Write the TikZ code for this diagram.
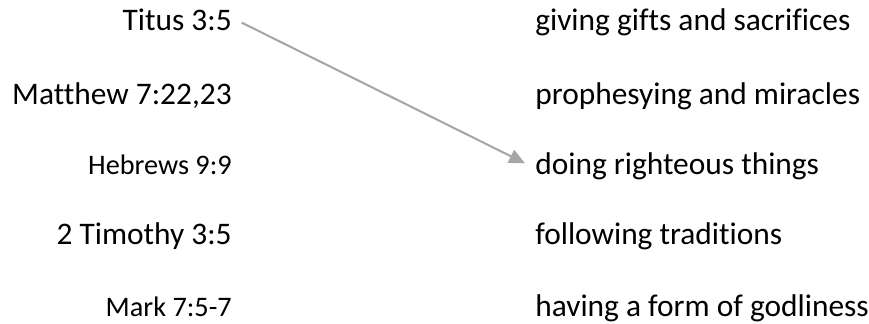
\documentclass[tikz,border=0pt]{standalone}
\usepackage{fontspec}
\setmainfont{Carlito}[Ligatures={NoCommon,NoContextual}]
\usetikzlibrary{calc,arrows.meta}
\definecolor{arrgray}{HTML}{A6A6A6}
\begin{document}
\begin{tikzpicture}[x=0.637pt,y=-0.637pt,
  refbig/.style={font=\fontsize{20}{24}\selectfont, inner sep=0pt, anchor=base east},
  refsmall/.style={font=\fontsize{18}{22}\selectfont, inner sep=0pt, anchor=base east},
  item/.style={font=\fontsize{20}{24}\selectfont, inner sep=0pt, anchor=base west},
  link/.style={draw=arrgray, line width=1.3pt, -{Triangle[length=10pt,width=9pt]}}]
\useasboundingbox (0,0) rectangle (869,324);
% left column
\node[refbig]   (l1) at (232,30.5)  {Titus 3:5};
\node[refbig]   (l2) at (232,104.5) {Matthew 7:22,23};
\node[refsmall] (l3) at (232,175)   {Hebrews 9:9};
\node[refbig]   (l4) at (232,245)   {2 Timothy 3:5};
\node[refsmall] (l5) at (232,317)   {Mark 7:5-7};
% right column
\node[item] (r1) at (535,31)  {giving gifts and sacrifices};
\node[item] (r2) at (535,105) {prophesying and miracles};
\node[item] (r3) at (535,175) {doing righteous things};
\node[item] (r4) at (535,245) {following traditions};
\node[item] (r5) at (535,317) {having a form of godliness};
% connector
\draw[link] ($(l1.east)+(9.7,2.8)$) -- ($(r3.west)+(-10,-3.5)$);
\end{tikzpicture}
\end{document}
